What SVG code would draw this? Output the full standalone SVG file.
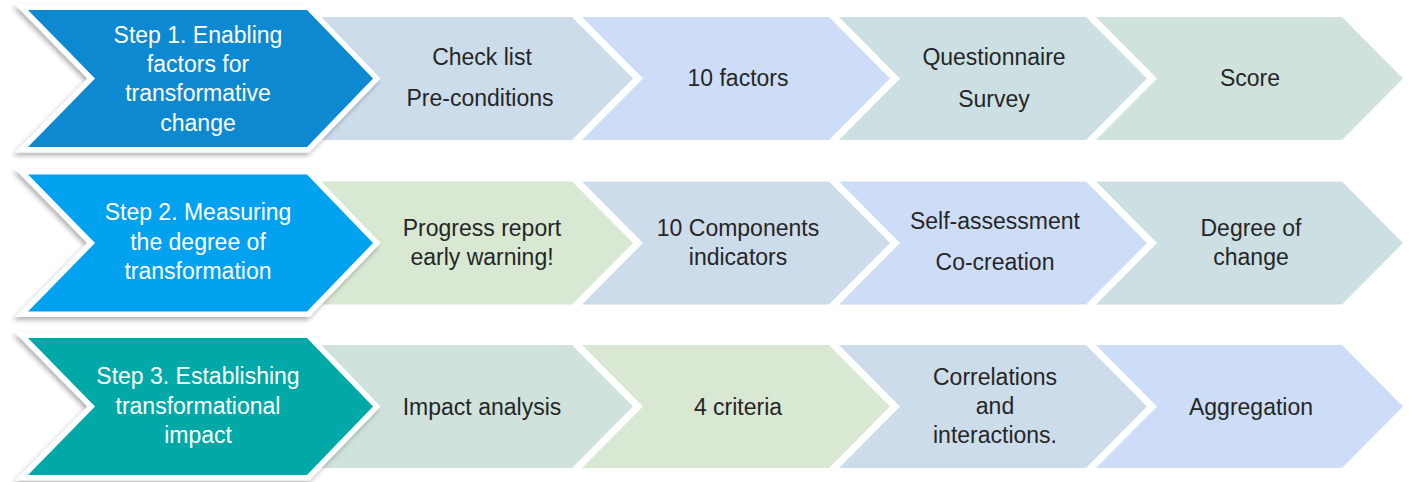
<svg xmlns="http://www.w3.org/2000/svg" width="1409" height="482" viewBox="0 0 1409 482">
<defs>
<style>
text{font-family:"Liberation Sans",Arial,sans-serif;font-size:23px;text-anchor:middle}
.w{fill:#ffffff}
.d{fill:#262626}
.big{stroke:#ffffff;stroke-width:11;stroke-linejoin:miter;paint-order:stroke;filter:url(#sh)}
.a{fill:#CCDCEB}.b{fill:#CDDDF8}.c{fill:#CCE0E3}.e{fill:#CFE3DC}.g{fill:#D9E8D3}
</style>
<filter id="sh" x="-10%" y="-10%" width="120%" height="125%">
<feDropShadow dx="-2" dy="3" stdDeviation="2.5" flood-color="#000" flood-opacity="0.3"/>
</filter>
<path id="s2" d="M322 17 H572 L633 78.5 L572 140 H322 Z"/>
<path id="s3" d="M582 17 H829 L890 78.5 L829 140 H582 L643 78.5 Z"/>
<path id="s4" d="M839 17 H1086 L1147 78.5 L1086 140 H839 L900 78.5 Z"/>
<path id="s5" d="M1096 17 H1342 L1403 78.5 L1342 140 H1096 L1157 78.5 Z"/>
<path id="bg" d="M28 10 H307 L373 78.5 L307 147 H28 L95 78.5 Z"/>
</defs>

<g id="row1">
<g id="r1n2"><use href="#s2" class="a"/><text class="d" x="482" y="65">Check list</text><text class="d" x="480" y="106">Pre-conditions</text></g>
<g id="r1n3"><use href="#s3" class="b"/><text class="d" x="738" y="86">10 factors</text></g>
<g id="r1n4"><use href="#s4" class="c"/><text class="d" x="994" y="65">Questionnaire</text><text class="d" x="994" y="107">Survey</text></g>
<g id="r1n5"><use href="#s5" class="e"/><text class="d" x="1250" y="86">Score</text></g>
<g id="r1n1"><use href="#bg" class="big" fill="#0A89D1"/><text class="w" x="198" y="43">Step 1. Enabling</text><text class="w" x="198" y="72">factors for</text><text class="w" x="198" y="101">transformative</text><text class="w" x="198" y="131">change</text></g>
</g>

<g id="row2" transform="translate(0,164.5)">
<g id="r2n2"><use href="#s2" class="g"/><text class="d" x="482" y="71.5">Progress report</text><text class="d" x="482" y="100.5">early warning!</text></g>
<g id="r2n3"><use href="#s3" class="a"/><text class="d" x="738" y="71.5">10 Components</text><text class="d" x="738" y="100.5">indicators</text></g>
<g id="r2n4"><use href="#s4" class="b"/><text class="d" x="995" y="64.5">Self-assessment</text><text class="d" x="995" y="105.5">Co-creation</text></g>
<g id="r2n5"><use href="#s5" class="c"/><text class="d" x="1251" y="71.5">Degree of</text><text class="d" x="1251" y="100.5">change</text></g>
<g id="r2n1"><use href="#bg" class="big" fill="#02A2F0"/><text class="w" x="198" y="55.5">Step 2. Measuring</text><text class="w" x="198" y="85.5">the degree of</text><text class="w" x="198" y="114.5">transformation</text></g>
</g>

<g id="row3" transform="translate(0,328)">
<g id="r3n2"><use href="#s2" class="e"/><text class="d" x="482" y="86.5">Impact analysis</text></g>
<g id="r3n3"><use href="#s3" class="g"/><text class="d" x="738" y="86.5">4 criteria</text></g>
<g id="r3n4"><use href="#s4" class="a"/><text class="d" x="995" y="57">Correlations</text><text class="d" x="995" y="86">and</text><text class="d" x="995" y="115">interactions.</text></g>
<g id="r3n5"><use href="#s5" class="b"/><text class="d" x="1251" y="86.5">Aggregation</text></g>
<g id="r3n1"><use href="#bg" class="big" fill="#03A9A8"/><text class="w" x="198" y="56">Step 3. Establishing</text><text class="w" x="198" y="86">transformational</text><text class="w" x="198" y="115">impact</text></g>
</g>

<g id="connectors"></g>
</svg>
